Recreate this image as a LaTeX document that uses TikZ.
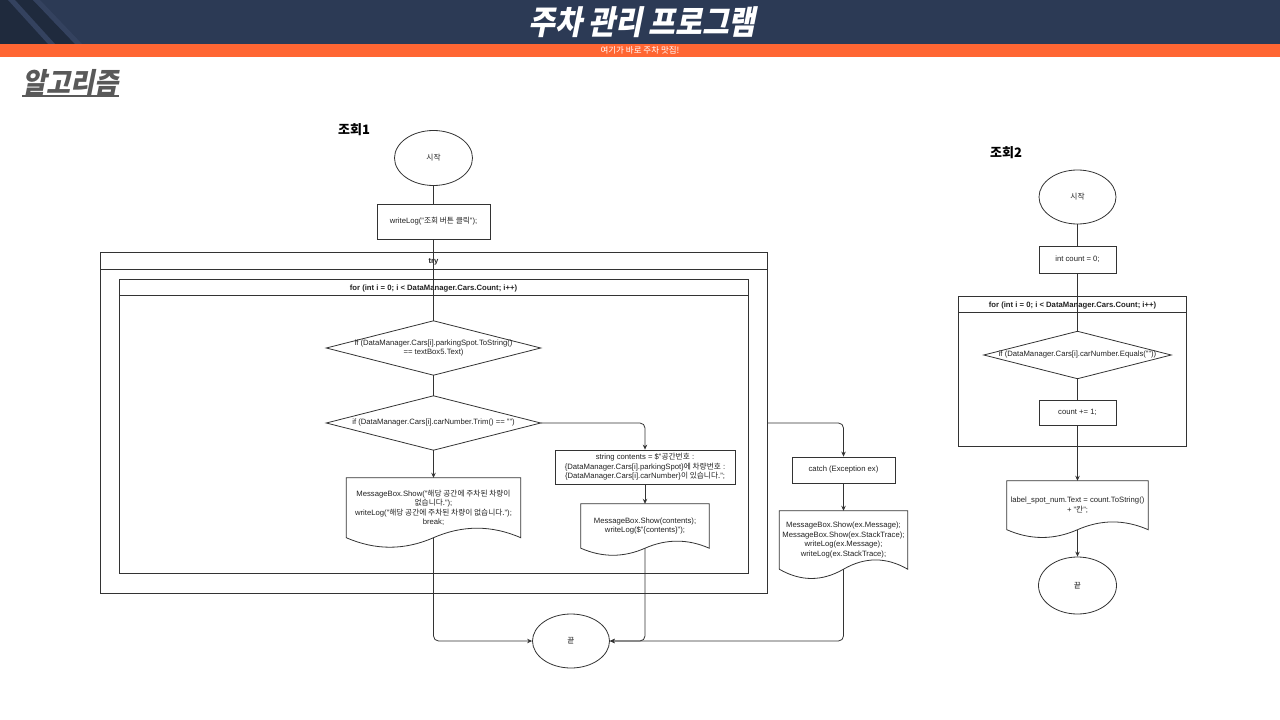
\documentclass[tikz,border=0pt]{standalone}
\usepackage{fontspec}
\setmainfont{Liberation Sans}
\newfontfamily\kr{Noto Sans CJK KR}
\newfontfamily\krt{Noto Sans CJK KR}[FakeSlant=0.2,FakeStretch=0.88]
\newfontfamily\kra{Noto Sans CJK KR}[FakeSlant=0.2,FakeStretch=0.92]
\usetikzlibrary{calc,arrows.meta,shapes.geometric}
\definecolor{navy}{HTML}{2C3A55}
\definecolor{navyd}{HTML}{1F2A3D}
\definecolor{navyl}{HTML}{34425F}
\definecolor{orng}{HTML}{FF6633}
\definecolor{lc}{HTML}{333333}
\definecolor{tc}{HTML}{222222}
\definecolor{algo}{HTML}{595959}
\newcommand\fs{\fontsize{7.7}{9.6}\selectfont}
\newcommand\docwave[1]{\draw[shp] let \p1=(#1.north west), \p2=(#1.south east), \n1={(\y1-\y2)/0.85}, \n2={\x2-\x1} in (\x1,\y1) -- (\x2,\y1) -- (\x2,\y2) .. controls ({\x1+0.8333*\n2},{\y2+0.18*\n1}) and ({\x1+0.6667*\n2},{\y2+0.18*\n1}) .. ({\x1+0.5*\n2},\y2) .. controls ({\x1+0.3333*\n2},{\y2-0.18*\n1}) and ({\x1+0.1667*\n2},{\y2-0.18*\n1}) .. (\x1,\y2) -- cycle;}
\newcommand\diamondpath[1]{\draw[shp] (#1.north) -- (#1.east) -- (#1.south) -- (#1.west) -- cycle;}
\begin{document}
\begin{tikzpicture}[x=1pt,y=-1pt,
  shp/.style={draw=lc, line width=0.8pt},
  ln/.style={draw=lc, line width=0.8pt},
  arr/.style={ln, -{Stealth[length=5pt,width=4.5pt]}},
  txt/.style={font=\fs, text=tc, align=center, inner sep=0pt},
  procbox/.style={txt, shp, rectangle},
  term/.style={txt, shp, ellipse},
  plain/.style={txt, rectangle},
  hdr/.style={txt, shp, rectangle, font=\fs\bfseries, text height=7pt, text depth=1pt},
  frame/.style={shp, rectangle, inner sep=0pt}
]
\useasboundingbox (0,0) rectangle (1280,720);
% header
\fill[navy] (0,0) rectangle (1280,44);
\fill[navyd] (0,0) -- (33,0) -- (75,44) -- (0,44) -- cycle;
\fill[navyl] (8,0) -- (15,0) -- (55,44) -- (48,44) -- cycle;
\fill[navyl] (33,0) -- (40,0) -- (82,44) -- (75,44) -- cycle;
\fill[orng] (0,44) rectangle (1280,57);
\node[text=white, inner sep=0pt, font=\krt\bfseries\fontsize{33}{33}\selectfont] (title) at (642,22) {주차 관리 프로그램};
\node[text=white, inner sep=0pt, font=\kr\fontsize{8.5}{9}\selectfont] (subtitle) at (640,50.5) {여기가 바로 주차 맛집!};
\node[text=algo, inner sep=0pt, anchor=base west, font=\kra\bfseries\fontsize{28.5}{28.5}\selectfont] (algo) at (22,93) {알고리즘};
\draw[algo, line width=1.4pt] ([yshift=-3pt]algo.base west) -- ([yshift=-3pt]algo.base east);

% ---------- 조회1 ----------
\node[inner sep=0pt, text=black, font=\kr\bfseries\fontsize{13}{13}\selectfont] (lab1) at (354,130) {조회1};
\node[term, minimum width=78pt, minimum height=55pt] (s1) at (433.5,158) {\kr 시작};
\node[procbox, minimum width=113pt, minimum height=35pt] (w1) at (433.5,221.5) {writeLog("{\kr 조회 버튼 클릭}");};
\node[frame, minimum width=667pt, minimum height=341pt] (try) at (433.5,422.5) {};
\node[hdr, minimum width=667pt, minimum height=17pt, anchor=north] (tryh) at (try.north) {try};
\node[frame, minimum width=629pt, minimum height=294pt] (for1) at (433.5,426) {};
\node[hdr, minimum width=629pt, minimum height=16pt, anchor=north] (for1h) at (for1.north) {for (int i = 0; i < DataManager.Cars.Count; i++)};
\node[plain, minimum width=214pt, minimum height=54pt] (c1) at (433.5,348) {if (DataManager.Cars[i].parkingSpot.ToString()\\== textBox5.Text)};
\diamondpath{c1}
\node[plain, minimum width=214pt, minimum height=54pt] (c2) at (433.5,423) {if (DataManager.Cars[i].carNumber.Trim() == "")};
\diamondpath{c2}
\node[procbox, minimum width=180pt, minimum height=34pt] (sc) at (645,467) {string contents = \$"{\kr 공간번호} :\\\{DataManager.Cars[i].parkingSpot\}{\kr 에 차량번호} :\\\{DataManager.Cars[i].carNumber\}{\kr 이 있습니다.}";};
\node[plain, minimum width=174pt, minimum height=59.5pt] (m1) at (433.5,507.75) {MessageBox.Show("{\kr 해당 공간에 주차된 차량이}\\{\kr 없습니다.}");\\writeLog("{\kr 해당 공간에 주차된 차량이 없습니다.}");\\break;};
\docwave{m1}
\node[plain, minimum width=128pt, minimum height=44pt] (m2) at (645,526) {MessageBox.Show(contents);\\writeLog(\$"\{contents\}");};
\docwave{m2}
\node[term, minimum width=77pt, minimum height=54pt] (e1) at (571,641) {\kr 끝};
\node[procbox, minimum width=103pt, minimum height=26pt] (ca) at (843.5,470) {catch (Exception ex)};
\node[plain, minimum width=128pt, minimum height=58pt] (m3) at (843.5,540) {MessageBox.Show(ex.Message);\\MessageBox.Show(ex.StackTrace);\\writeLog(ex.Message);\\writeLog(ex.StackTrace);};
\docwave{m3}

\draw[ln] (s1) -- (w1);
\draw[ln] (w1) -- (c1);
\draw[ln] (c1) -- (c2);
\draw[arr, rounded corners=5pt] (c2.east) -| (sc.north);
\draw[arr] (c2.south) -- (m1.north);
\draw[arr] (sc) -- (m2);
\draw[arr, rounded corners=5pt] (m1.south) |- (e1.west);
\draw[arr, rounded corners=5pt] (m2.south) |- (e1.east);
\draw[arr, rounded corners=5pt] (try.east |- c2.east) -| (ca.north);
\draw[arr] (ca) -- (m3);
\draw[arr, rounded corners=5pt] (m3.south) |- (e1.east);

% ---------- 조회2 ----------
\node[inner sep=0pt, text=black, font=\kr\bfseries\fontsize{13}{13}\selectfont] (lab2) at (1006,153) {조회2};
\node[term, minimum width=77pt, minimum height=54pt] (s2) at (1077.5,197) {\kr 시작};
\node[procbox, minimum width=77pt, minimum height=27pt] (ic) at (1077.5,259.5) {int count = 0;};
\node[frame, minimum width=228pt, minimum height=149.5pt] (for2) at (1072.5,371.25) {};
\node[hdr, minimum width=228pt, minimum height=16pt, anchor=north] (for2h) at (for2.north) {for (int i = 0; i < DataManager.Cars.Count; i++)};
\node[plain, minimum width=187pt, minimum height=47pt] (c3) at (1077.5,355) {if (DataManager.Cars[i].carNumber.Equals(""))};
\diamondpath{c3}
\node[procbox, minimum width=77pt, minimum height=25pt] (cn) at (1077.5,412.5) {count += 1;};
\node[plain, minimum width=141pt, minimum height=48.5pt] (m4) at (1077.5,505.25) {label\_spot\_num.Text = count.ToString()\\+ "{\kr 칸}";};
\docwave{m4}
\node[term, minimum width=78pt, minimum height=57pt] (e2) at (1077.5,585.5) {\kr 끝};

\draw[ln] (s2) -- (ic);
\draw[ln] (ic) -- (c3);
\draw[ln] (c3) -- (cn);
\draw[arr] (cn) -- (m4);
\draw[arr] (m4.south) -- (e2);
\end{tikzpicture}
\end{document}
